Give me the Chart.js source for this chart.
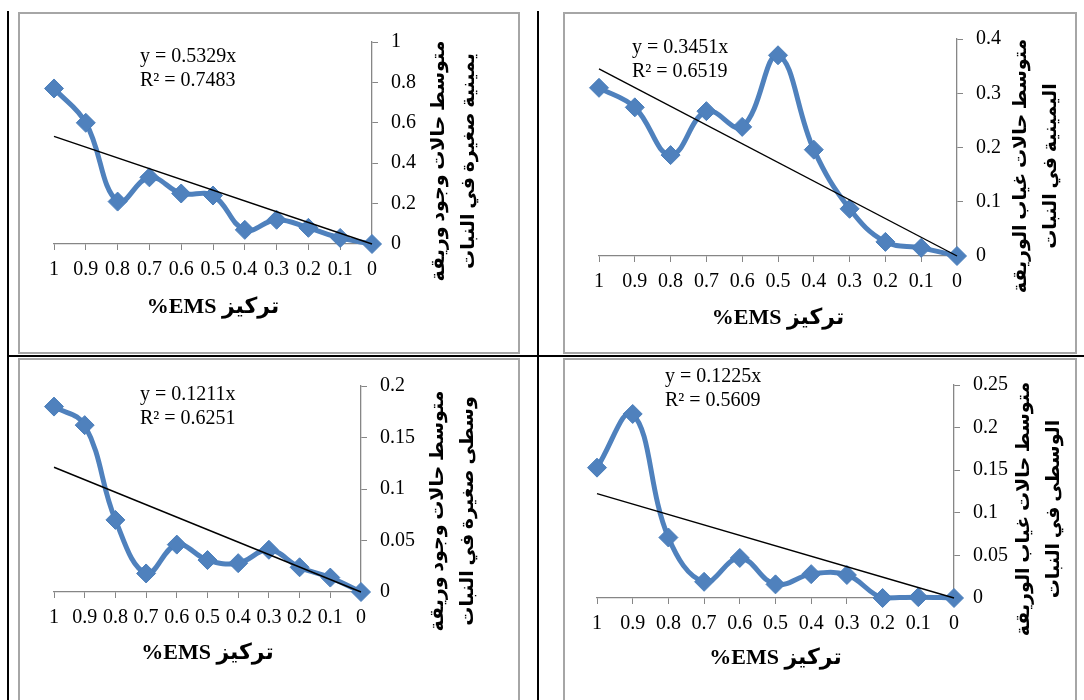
<!DOCTYPE html>
<html>
<head>
<meta charset="utf-8">
<script src="https://cdn.jsdelivr.net/npm/chart.js@4.4.0/dist/chart.umd.min.js"></script>
<style>
  body { margin: 0; width: 1084px; height: 700px; overflow: hidden; background: #fff; position: relative; }
  .rule { position: absolute; background: #000; }
  .panel { position: absolute; border: 2px solid #a6a6a6; background: #fff; }
  .panel canvas { display: block; }
</style>
</head>
<body>
<div class="rule" style="left:7px;top:11px;width:2px;height:700px"></div>
<div class="rule" style="left:537px;top:11px;width:2px;height:700px"></div>
<div class="rule" style="left:7px;top:355px;width:1077px;height:2px"></div>

<div class="panel" style="left:18px;top:12px"><canvas id="c0" width="498" height="338"></canvas></div>
<div class="panel" style="left:563px;top:12px"><canvas id="c1" width="510" height="338"></canvas></div>
<div class="panel" style="left:18px;top:358px"><canvas id="c2" width="498" height="340"></canvas></div>
<div class="panel" style="left:563px;top:358px"><canvas id="c3" width="510" height="340"></canvas></div>

<script>
// EMS concentration (%) on the x axis, read left to right
const concentrations = [1, 0.9, 0.8, 0.7, 0.6, 0.5, 0.4, 0.3, 0.2, 0.1, 0];

// mean cases per plant
const presentRight  = [0.77, 0.60, 0.21, 0.33, 0.25, 0.24, 0.07, 0.12, 0.08, 0.03, 0];
const absentRight   = [0.31, 0.274, 0.186, 0.267, 0.238, 0.37, 0.196, 0.087, 0.026, 0.015, 0];
const presentMiddle = [0.180, 0.162, 0.070, 0.018, 0.046, 0.031, 0.028, 0.041, 0.024, 0.014, 0];
const absentMiddle  = [0.153, 0.216, 0.071, 0.019, 0.047, 0.016, 0.028, 0.027, 0, 0.001, 0];

// linear trend lines through the origin
const slopes = [0.5329, 0.3451, 0.1211, 0.1225];
const rSquared = ['0.7483', '0.6519', '0.6251', '0.5609'];

const yMaxima = [1, 0.4, 0.2, 0.25];
const ySteps = [0.2, 0.1, 0.05, 0.05];

const xTitle = 'تركيز EMS%';
const yTitles = [
  ['متوسط حالات وجود وريقة', 'يمينية صغيرة في النبات'],
  ['متوسط حالات غياب الوريقة', 'اليمينية في النبات'],
  ['متوسط حالات وجود وريقة', 'وسطى صغيرة في النبات'],
  ['متوسط حالات غياب الوريقة', 'الوسطى في النبات']
];

const series = [presentRight, absentRight, presentMiddle, absentMiddle];

// plot-area placement inside each canvas, and where the extra texts go
const frames = [
  { left: 34, right: 352, top: 28, bottom: 230, eqX: 120, eqY: 43, yTitleX: 434, yTitleY: 147, xTitleGap: 63 },
  { left: 34, right: 392, top: 23, bottom: 242, eqX: 67, eqY: 34, yTitleX: 471, yTitleY: 152, xTitleGap: 62 },
  { left: 34, right: 341, top: 26, bottom: 232, eqX: 120, eqY: 35, yTitleX: 433, yTitleY: 151, xTitleGap: 61 },
  { left: 32, right: 389, top: 24, bottom: 238, eqX: 100, eqY: 17, yTitleX: 474, yTitleY: 149, xTitleGap: 60 }
];

const Y_AXIS_W = 60;
const X_AXIS_H = 40;
const SERIF = '"Liberation Serif", "Times New Roman", "DejaVu Sans", serif';
const AXIS_GREY = '#868686';
const BLUE = '#4F81BD';

// plain number labels: 1, 0.9 ... 0.15 (no padded decimals)
function plainNumber(v) {
  return String(Number(v.toFixed(4)));
}

const panelText = {
  id: 'panelText',
  afterDraw(chart, args, opts) {
    const ctx = chart.ctx;
    const area = chart.chartArea;
    ctx.save();
    ctx.fillStyle = '#000';

    // trendline equation
    ctx.font = '20px ' + SERIF;
    ctx.textAlign = 'left';
    ctx.textBaseline = 'middle';
    opts.equation.forEach((line, i) => ctx.fillText(line, opts.eqX, opts.eqY + i * 24));

    // arabic titles
    ctx.direction = 'rtl';
    ctx.textAlign = 'center';
    ctx.font = 'bold 22px ' + SERIF;
    ctx.fillText(opts.xTitle, (area.left + area.right) / 2, area.bottom + opts.xTitleGap);

    ctx.font = 'bold 19px ' + SERIF;
    ctx.translate(opts.yTitleX, opts.yTitleY);
    ctx.rotate(-Math.PI / 2);
    const n = opts.yTitle.length;
    opts.yTitle.forEach((line, i) => ctx.fillText(line, 0, (i - (n - 1) / 2) * 30));
    ctx.restore();
  }
};

function makeChart(idx) {
  const canvas = document.getElementById('c' + idx);
  const f = frames[idx];
  const values = series[idx];
  const tickFont = { family: SERIF, size: 20 };

  return new Chart(canvas, {
    type: 'line',
    data: {
      datasets: [
        {
          data: [{ x: 1, y: slopes[idx] }, { x: 0, y: 0 }],
          borderColor: '#000',
          borderWidth: 1.4,
          pointRadius: 0,
          tension: 0,
          clip: false
        },
        {
          data: concentrations.map((x, i) => ({ x: x, y: values[i] })),
          borderColor: BLUE,
          borderWidth: 5,
          borderJoinStyle: 'round',
          borderCapStyle: 'round',
          tension: 0.4,
          pointStyle: 'rectRot',
          pointRadius: 9.5,
          pointBackgroundColor: BLUE,
          pointBorderColor: '#4A7EBB',
          pointBorderWidth: 1,
          clip: false
        }
      ]
    },
    options: {
      responsive: false,
      animation: false,
      layout: {
        padding: {
          left: f.left,
          top: f.top,
          right: canvas.width - f.right - Y_AXIS_W,
          bottom: canvas.height - f.bottom - X_AXIS_H
        }
      },
      plugins: {
        legend: { display: false },
        tooltip: { enabled: false },
        panelText: {
          equation: ['y = ' + slopes[idx] + 'x', 'R² = ' + rSquared[idx]],
          eqX: f.eqX, eqY: f.eqY,
          xTitle: xTitle, xTitleGap: f.xTitleGap,
          yTitle: yTitles[idx], yTitleX: f.yTitleX, yTitleY: f.yTitleY
        }
      },
      scales: {
        x: {
          type: 'linear',
          position: 'bottom',
          reverse: true,
          min: 0,
          max: 1,
          ticks: { stepSize: 0.1, autoSkip: false, maxRotation: 0, font: tickFont, color: '#000', padding: 8, callback: plainNumber },
          grid: { drawOnChartArea: false, tickLength: 6, color: AXIS_GREY },
          border: { color: AXIS_GREY, width: 1.3 },
          afterFit(scale) { scale.height = X_AXIS_H; }
        },
        y: {
          position: 'right',
          min: 0,
          max: yMaxima[idx],
          ticks: { stepSize: ySteps[idx], font: tickFont, color: '#000', padding: 13, callback: plainNumber },
          grid: { drawOnChartArea: false, tickLength: 6, color: AXIS_GREY },
          border: { color: AXIS_GREY, width: 1.3 },
          afterFit(scale) { scale.width = Y_AXIS_W; }
        }
      }
    },
    plugins: [panelText]
  });
}

[0, 1, 2, 3].forEach(makeChart);
</script>
</body>
</html>
